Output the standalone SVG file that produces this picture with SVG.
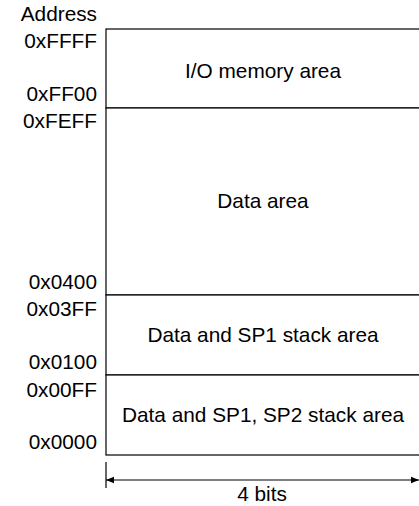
<svg xmlns="http://www.w3.org/2000/svg" width="419" height="506" viewBox="0 0 419 506">
<defs>
<style>
text{font-family:"Liberation Sans",Arial,sans-serif;font-size:20.8px;fill:#000}
.addr{text-anchor:end}
.mid{text-anchor:middle}
.box{fill:#fff;stroke:#000;stroke-width:1.2}
.ln{stroke:#000;stroke-width:1.2;fill:none}
</style>
<marker id="ah" viewBox="0 0 10 10" refX="10" refY="5" markerWidth="8" markerHeight="8" markerUnits="userSpaceOnUse" orient="auto-start-reverse">
<path d="M0,1 L10,5 L0,9 Z" fill="#000"/>
</marker>
</defs>
<rect width="419" height="506" fill="#fff"/>
<g id="labels">
<text x="97" y="20.5" class="addr">Address</text>
<text x="97" y="48" class="addr">0xFFFF</text>
<text x="97" y="101" class="addr">0xFF00</text>
<text x="97" y="128" class="addr">0xFEFF</text>
<text x="97" y="289" class="addr">0x0400</text>
<text x="97" y="316" class="addr">0x03FF</text>
<text x="97" y="369" class="addr">0x0100</text>
<text x="97" y="397" class="addr">0x00FF</text>
<text x="97" y="449" class="addr">0x0000</text>
</g>
<g id="io">
<rect class="box" x="106" y="29" width="320" height="79"/>
<text x="263" y="78" class="mid">I/O memory area</text>
</g>
<g id="data">
<rect class="box" x="106" y="108" width="320" height="187"/>
<text x="263" y="208" class="mid">Data area</text>
</g>
<g id="sp1">
<rect class="box" x="106" y="295" width="320" height="80"/>
<text x="263" y="342" class="mid">Data and SP1 stack area</text>
</g>
<g id="sp12">
<rect class="box" x="106" y="375" width="320" height="80"/>
<text x="263" y="422" class="mid">Data and SP1, SP2 stack area</text>
</g>
<g id="connectors">
<line class="ln" x1="106" y1="462" x2="106" y2="488"/>
<line class="ln" x1="106" y1="480" x2="419" y2="480" marker-start="url(#ah)" marker-end="url(#ah)"/>
<text x="262" y="501" class="mid">4 bits</text>
</g>
</svg>
